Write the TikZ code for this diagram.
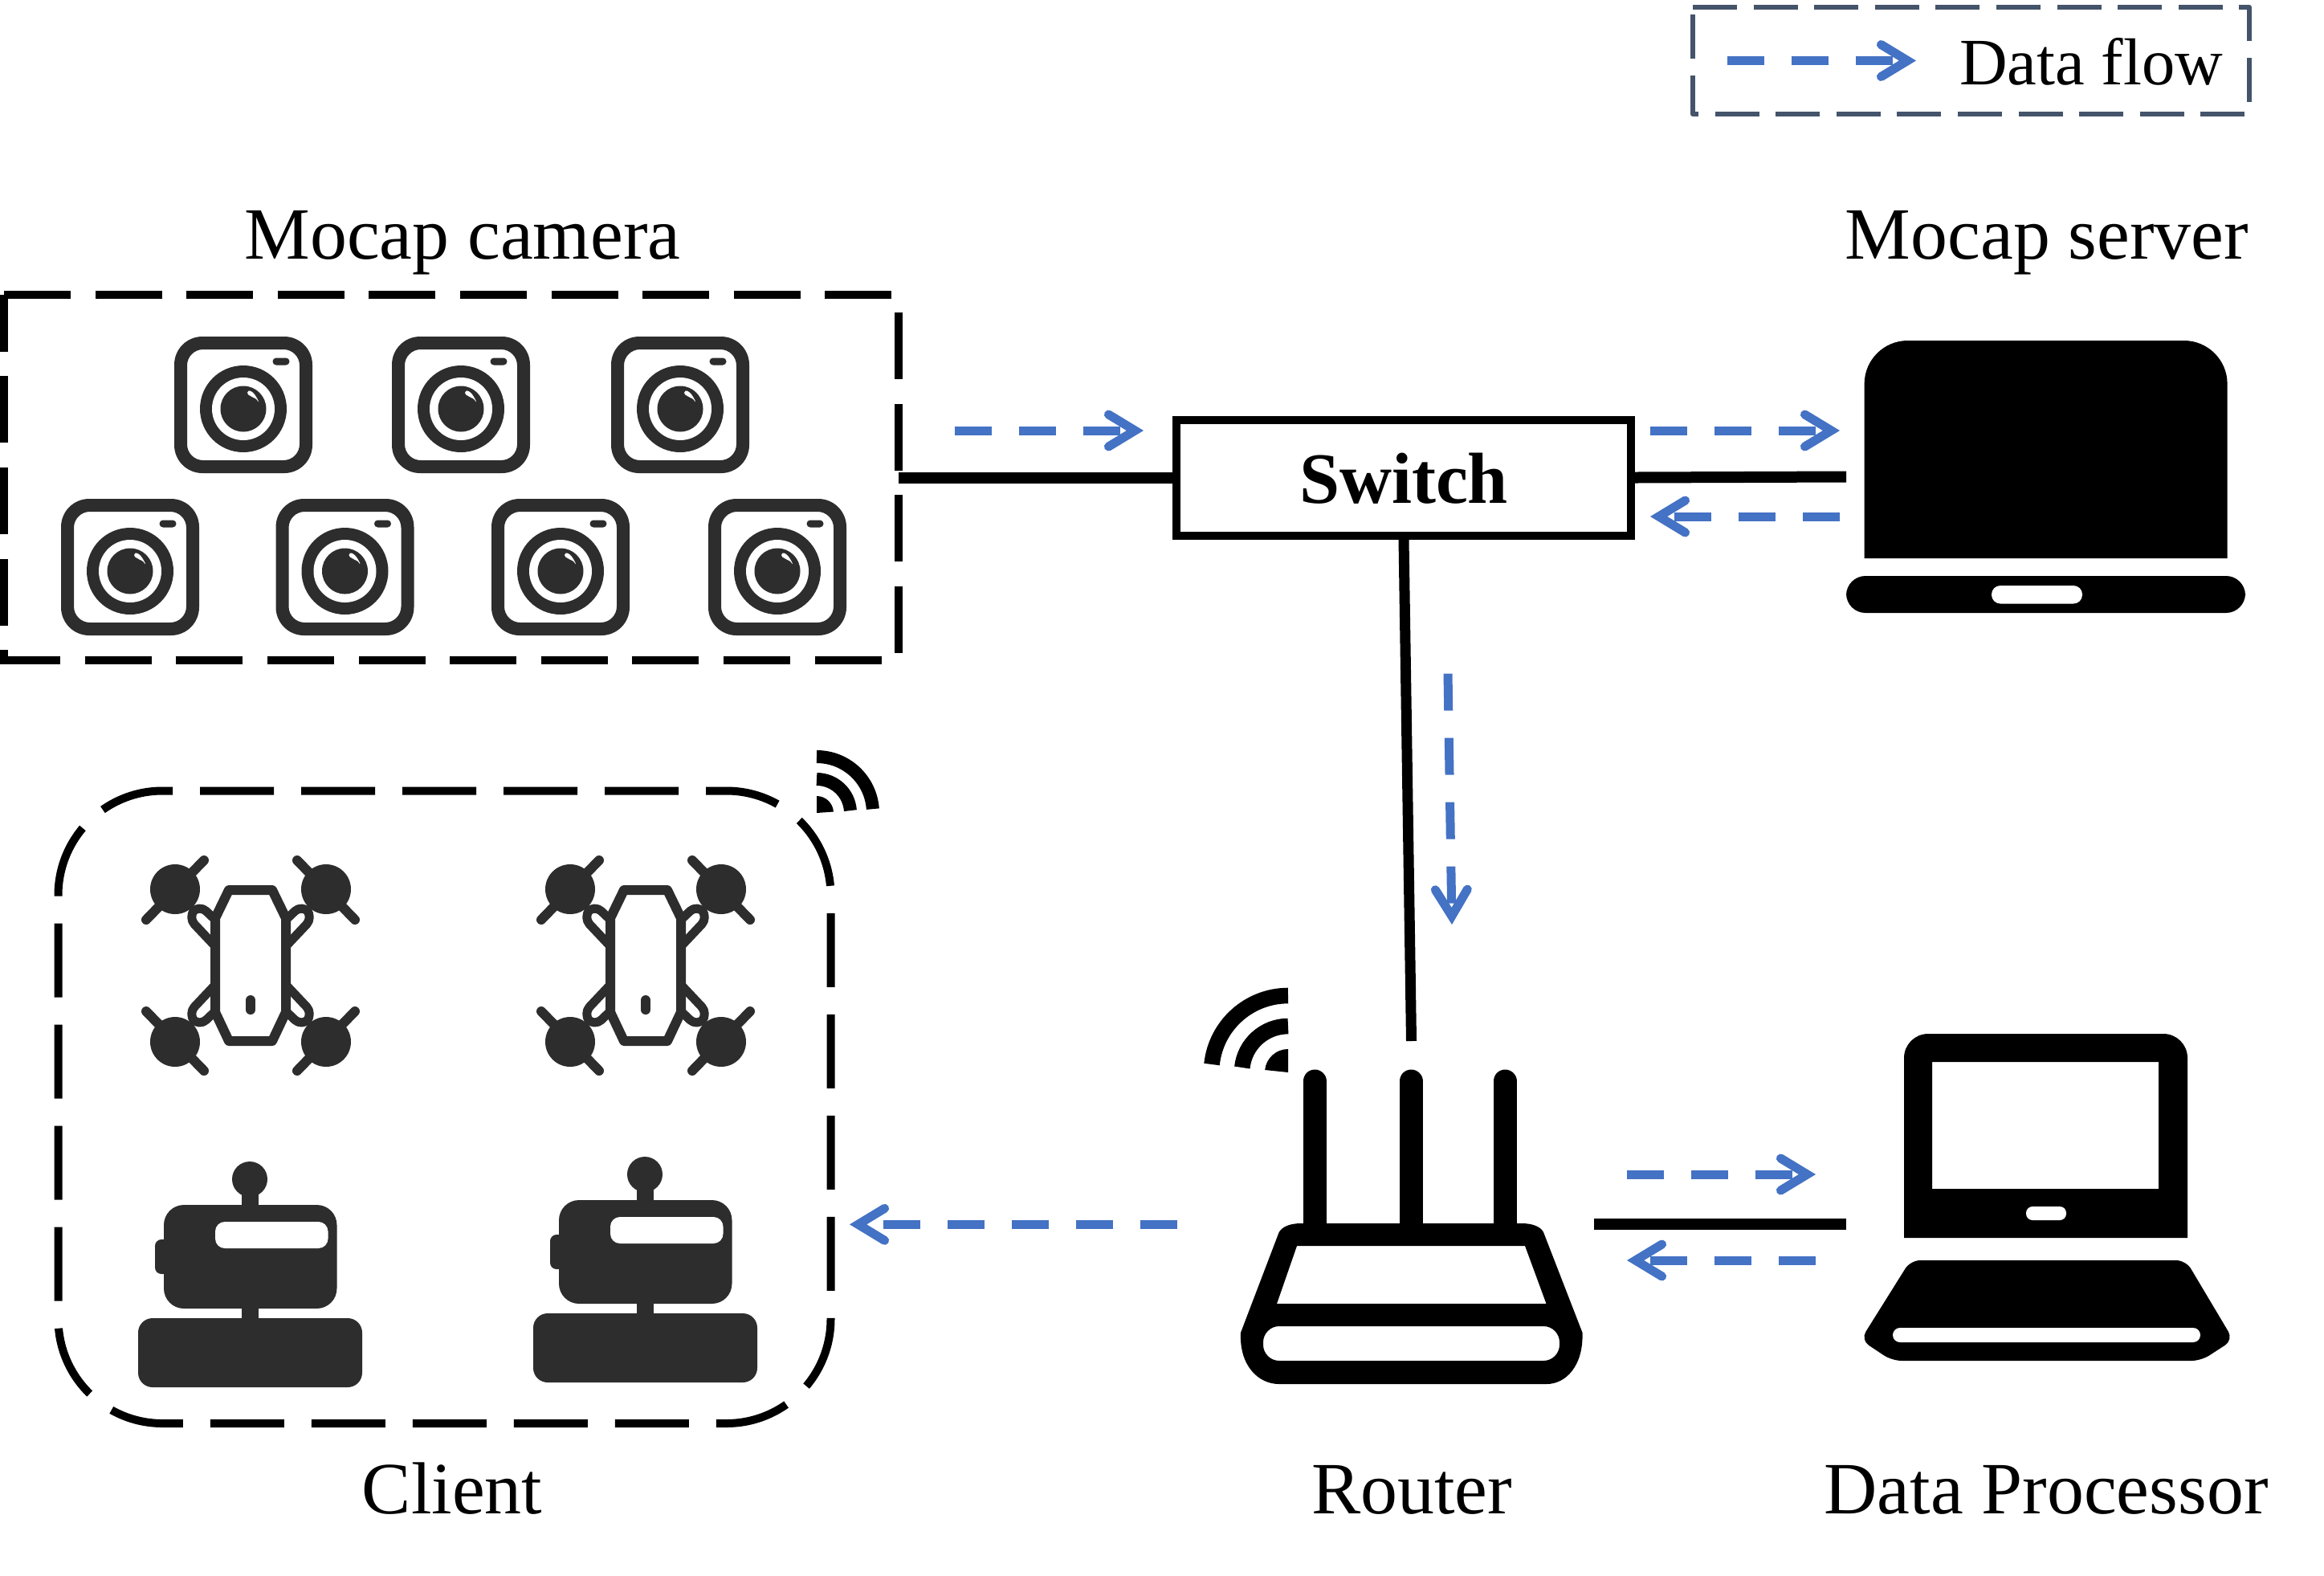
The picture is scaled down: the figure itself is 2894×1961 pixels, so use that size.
\documentclass[tikz,border=0pt]{standalone}
\usepackage{fontspec}
\setmainfont{Liberation Serif}
\usetikzlibrary{arrows.meta,calc}
\definecolor{flowblue}{HTML}{4472C4}
\definecolor{legendslate}{HTML}{44546A}
\definecolor{icondark}{HTML}{2D2D2D}
\tikzset{
  caption/.style={anchor=base,inner sep=0pt,font=\fontsize{45.9}{55}\selectfont},
  iconbox/.style={draw=none,inner sep=0pt,outer sep=0pt},
  wire/.style={line width=7pt,black},
  flow/.style={line width=5.5pt,flowblue,dash pattern=on 23pt off 17pt,
    -{Straight Barb[length=16.5pt,width=20pt,line width=5.5pt,line cap=round,line join=miter]}},
  camframe/.style={line width=5pt,black,dash pattern=on 41.5pt off 15.3pt},
  clientframe/.style={line width=5pt,black,dash pattern=on 46pt off 17pt,dash phase=39.75pt},
  legendframe/.style={line width=3pt,legendslate,line join=round,dash pattern=on 27.5pt off 10.3pt},
  camera/.pic={
    \fill[icondark,even odd rule] [rounded corners=17.5pt] (-86,-85) rectangle (86,85)
       [rounded corners=10pt] (-70,-69) rectangle (70,69);
    \fill[icondark,rounded corners=2.2pt] (36.5,-58.5) rectangle (57.5,-49.5);
    \fill[icondark] (0,5) circle[radius=54];
    \fill[white] (0,5) circle[radius=39];
    \fill[icondark] (0,5) circle[radius=28.5];
    \fill[white] (5,-15) .. controls (6,-20) and (11,-17) .. (14,-13)
      .. controls (17,-9) and (20,-3) .. (18.5,-4)
      .. controls (16,-9) and (13,-8) .. (9,-11) .. controls (7,-12) and (5,-13) .. cycle;
  },
  drone/.pic={
    \foreach \sx/\sy in {1/1,-1/1,1/-1,-1/-1}{
      \begin{scope}[xscale=\sx,yscale=\sy]
        \draw[icondark,line width=5.5pt,line join=round,rounded corners=6pt]
          (-44,-24) -- (-78,-60) -- (-64,-76) -- (-44,-57);
        \draw[icondark,line width=6pt,line cap=round] (-58,-131) -- (-130,-57);
        \fill[icondark] (-94,-95) circle[radius=31];
      \end{scope}
    }
    \draw[icondark,line width=6pt,line join=round]
      (-44,-59) -- (-27,-94) -- (27,-94) -- (44,-59) -- (44,58) -- (27,94) -- (-27,94) -- (-44,58) -- cycle;
    \draw[icondark,line width=6pt,line cap=round] (0,43) -- (0,55);
  },
  robot/.pic={
    \fill[icondark,rounded corners=9pt] (-139,173) rectangle (140,259);
    \fill[icondark] (-10,155) rectangle (11,180);
    \fill[icondark,rounded corners=12.5pt] (-107,32) rectangle (108.5,161);
    \fill[icondark,rounded corners=4pt] (-118,75) rectangle (-100,118);
    \fill[icondark] (-10,14) rectangle (11,40);
    \fill[icondark] (0,0) circle[radius=22];
    \fill[white,rounded corners=6pt] (-43,53) rectangle (97.5,86);
  },
}
\begin{document}
\begin{tikzpicture}[x=0.5pt,y=-0.5pt]
\useasboundingbox (0,0) rectangle (2894,1961);

% legend
\coordinate (legA) at (2151,75.5);
\coordinate (legB) at (2386,75.5);
\draw[legendframe] (2108,9) -- (2801,9) -- (2801,142) -- (2108,142) -- cycle;
\draw[flow] (legA) -- (legB);
\node[caption,font=\fontsize{41.3}{50}\selectfont] (legtext) at (2604,105.5) {Data flow};

% captions
\node[caption] (camlabel) at (576,322) {Mocap camera};
\node[caption] (srvlabel) at (2549,322) {Mocap server};
\node[caption] (clilabel) at (563,1884) {Client};
\node[caption] (rtrlabel) at (1758,1884) {Router};
\node[caption] (prclabel) at (2548,1884) {Data Processor};

% camera group
\node[iconbox,minimum width=557pt,minimum height=227.5pt] (cams) at (562,594.5) {};
\draw[camframe] (cams.north west) -- (cams.north east) -- (cams.south east) -- (cams.south west) -- cycle;
\pic (cam1) at (303,504) {camera};
\pic (cam2) at (574,504) {camera};
\pic (cam3) at (847,504) {camera};
\pic (cam4) at (162,706) {camera};
\pic (cam5) at (429.5,706) {camera};
\pic (cam6) at (698,706) {camera};
\pic (cam7) at (968,706) {camera};

% switch
\node[draw=black,line width=5pt,minimum width=283pt,minimum height=72pt,inner sep=0pt,
      text height=32.3pt,text depth=0pt,font=\fontsize{45}{54}\selectfont\bfseries] (switch) at (1748,594.5) {Switch};

% server laptop
\node[iconbox,minimum width=248.5pt,minimum height=169.5pt] (server) at (2547.5,593.5) {};
\fill[black] (2321.6,695) [rounded corners=27pt] -- (2321.6,424) -- (2773.6,424) [sharp corners] -- (2773.6,695) -- cycle;
\fill[black,rounded corners=12pt] (2299,717) rectangle (2796,763);
\fill[white,rounded corners=5.5pt] (2480,729) rectangle (2593,751.5);

% client group
\node[iconbox,minimum width=481pt,minimum height=393.75pt] (client) at (553.5,1378.25) {};
\draw[clientframe,rounded corners=65pt] (202.5,984.5) -- (1034.5,984.5) -- (1034.5,1772) -- (72.5,1772) -- (72.5,984.5) -- (202.5,984.5);
\pic (drone1) at (312,1202) {drone};
\pic (drone2) at (804,1202) {drone};
\pic (robot1) at (311,1468) {robot};
\pic (robot2) at (803,1462) {robot};
% client wifi
\coordinate (cwifi) at (1017,1012);
\draw[black,line width=8pt] ($(cwifi)+(0,-70)$) arc[start angle=-90,end angle=-4,radius=70];
\draw[black,line width=8pt] ($(cwifi)+(0,-42)$) arc[start angle=-90,end angle=-4,radius=42];
\fill[black] (cwifi) -- ($(cwifi)+(0,-21)$) arc[start angle=-90,end angle=-4,radius=21] -- cycle;

% router
\node[iconbox,minimum width=212.75pt,minimum height=195.5pt] (router) at (1757.5,1527.5) {};
\draw[black,line width=14.5pt,line cap=round] (1637,1346) -- (1637,1530);
\draw[black,line width=14.5pt,line cap=round] (1757,1346) -- (1757,1530);
\draw[black,line width=14.5pt,line cap=round] (1874,1346) -- (1874,1530);
\fill[black,even odd rule]
  (1620,1523) -- (1895,1523) .. controls (1910,1523) and (1919,1528) .. (1922,1534)
  -- (1970.5,1659) .. controls (1972,1700) and (1950,1723) .. (1926,1723)
  -- (1592.7,1723) .. controls (1567,1723) and (1543,1700) .. (1545,1659)
  -- (1592.7,1534) .. controls (1596,1528) and (1605,1523) .. (1620,1523) -- cycle
  (1615,1551) -- (1899,1551) -- (1925.5,1623) -- (1590,1623) -- cycle
  [rounded corners=10pt] (1573,1651) rectangle (1942,1694);
% router wifi
\coordinate (rwifi) at (1604,1335);
\draw[black,line width=9.8pt] ($(rwifi)+(0,-95.5)$) arc[start angle=-90,end angle=-174,radius=95.5];
\draw[black,line width=9.8pt] ($(rwifi)+(0,-57.5)$) arc[start angle=-90,end angle=-174,radius=57.5];
\fill[black] (rwifi) -- ($(rwifi)+(0,-29)$) arc[start angle=-90,end angle=-174,radius=29] -- cycle;

% data processor laptop
\node[iconbox,minimum width=227pt,minimum height=203.5pt] (proc) at (2549,1490.5) {};
\fill[black,even odd rule] (2371,1541) [rounded corners=15pt] -- (2371,1287) -- (2724,1287) [sharp corners] -- (2724,1541) -- cycle
  (2406,1322) rectangle (2688,1480);
\fill[white,rounded corners=4pt] (2523,1502) rectangle (2573,1519);
\fill[black,rounded corners=6pt] (2379,1569) -- (2722,1569) -- (2781,1668) -- (2741,1694) -- (2356,1694) -- (2317,1668) -- cycle;
\fill[white,rounded corners=4.5pt] (2357,1653) rectangle (2740,1671);

% wires
\coordinate (routerN) at (1757.5,1296);
\coordinate (routerE) at (1985,1524);
\coordinate (procW) at (2299,1524);
\draw[wire] (cams.east) -- (switch.west);
\draw[wire] (switch.east) -- (server.west);
\draw[wire,line width=6.5pt] (switch.south) -- (routerN);
\draw[wire] (routerE) -- (procW);

% data flow arrows
\coordinate (f1a) at (1188.6,536); \coordinate (f1b) at (1424,536);
\coordinate (f2a) at (2055,536);   \coordinate (f2b) at (2291,536);
\coordinate (f3a) at (2290.5,643); \coordinate (f3b) at (2055,643);
\coordinate (f4a) at (1803,838.6); \coordinate (f4b) at (1808,1151);
\coordinate (f5a) at (1466,1524.3);\coordinate (f5b) at (1058,1524.3);
\coordinate (f6a) at (2026,1462);  \coordinate (f6b) at (2261,1462);
\coordinate (f7a) at (2261,1569);  \coordinate (f7b) at (2026,1569);
\foreach \a/\b in {f1a/f1b,f2a/f2b,f3a/f3b,f4a/f4b,f5a/f5b,f6a/f6b,f7a/f7b}
  \draw[flow] (\a) -- (\b);
\end{tikzpicture}
\end{document}
